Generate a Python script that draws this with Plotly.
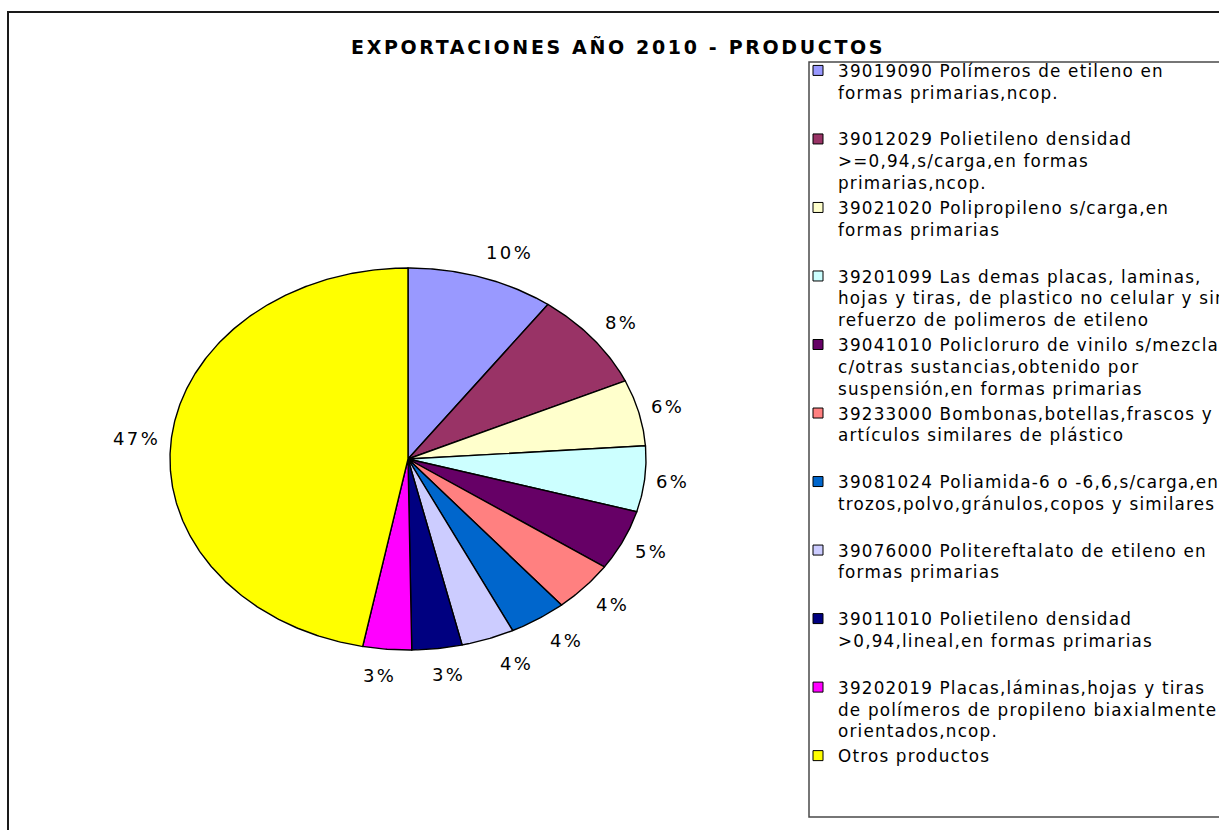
import numpy as np
import plotly.graph_objects as go

# ---------------- data ----------------
categories = [
    "39019090 Polímeros de etileno en\nformas primarias,ncop.",
    "39012029 Polietileno densidad\n>=0,94,s/carga,en formas\nprimarias,ncop.",
    "39021020 Polipropileno s/carga,en\nformas primarias",
    "39201099 Las demas placas, laminas,\nhojas y tiras, de plastico no celular y sin\nrefuerzo de polimeros de etileno",
    "39041010 Policloruro de vinilo s/mezclar\nc/otras sustancias,obtenido por\nsuspensión,en formas primarias",
    "39233000 Bombonas,botellas,frascos y\nartículos similares de plástico",
    "39081024 Poliamida-6 o -6,6,s/carga,en\ntrozos,polvo,gránulos,copos y similares",
    "39076000 Politereftalato de etileno en\nformas primarias",
    "39011010 Polietileno densidad\n>0,94,lineal,en formas primarias",
    "39202019 Placas,láminas,hojas y tiras\nde polímeros de propileno biaxialmente\norientados,ncop.",
    "Otros productos",
]
values = [10.0, 8.3, 5.6, 5.55, 5.1, 4.3, 3.9, 3.6, 3.4, 3.3, 46.95]
colors = ["#9999FF", "#993366", "#FFFFCC", "#CCFFFF", "#660066", "#FF8080",
          "#0066CC", "#CCCCFF", "#000080", "#FF00FF", "#FFFF00"]
title_text = "EXPORTACIONES AÑO 2010 - PRODUCTOS"

# ---------------- layout constants ----------------
W, H = 1219, 830
FONT = "DejaVu Sans, Verdana, sans-serif"
cx, cy, rx, ry = 408, 459, 238, 191   # pie centre / radii in pixels
pad = 1.1

fig = go.Figure()

total = float(sum(values))
cum = np.concatenate([[0.0], np.cumsum(values)]) / total

# pie slices (ellipse produced by axis scaling)
for i, (v, c) in enumerate(zip(values, colors)):
    n = max(3, int((cum[i + 1] - cum[i]) * 720) + 2)
    t = np.linspace(cum[i], cum[i + 1], n) * 2 * np.pi
    xs = np.concatenate([[0.0], np.sin(t), [0.0]])
    ys = np.concatenate([[0.0], np.cos(t), [0.0]])
    fig.add_trace(go.Scatter(
        x=xs, y=ys, mode="lines", fill="toself", fillcolor=c,
        line=dict(color="black", width=1.4), showlegend=False,
        hoverinfo="skip"))

# legend entries (square symbols)
def legend_name(txt, nlines=3, ls=1.2):
    lines = txt.split("\n")
    lines = lines + [""] * (nlines - len(lines))
    out = []
    for ln in lines:
        out.append(f'<span style="letter-spacing:{ls}px">{ln}</span>' if ln else "")
    return "<br>".join(out)

for name, c in zip(categories, colors):
    fig.add_trace(go.Scatter(
        x=[None], y=[None], mode="markers", name=legend_name(name),
        marker=dict(symbol="square", size=10, color=c,
                    line=dict(color="black", width=1)),
        showlegend=True, hoverinfo="skip"))

# percentage labels
annotations = []
for i, v in enumerate(values):
    mid = (cum[i] + cum[i + 1]) / 2 * 2 * np.pi
    s, co = np.sin(mid), np.cos(mid)
    txt = f"{round(v / total * 100)}%"
    w = 11.8 * len(txt) + 11
    lim = w / 2 + 11
    xs_ = float(np.clip(90 * s, -lim, lim))
    ys_ = float(26 * co)
    annotations.append(dict(
        x=float(s), y=float(co), xref="x", yref="y",
        text=f'<span style="letter-spacing:2.4px">{txt}</span>',
        showarrow=False, xanchor="center", yanchor="middle",
        xshift=xs_, yshift=ys_,
        font=dict(family=FONT, size=18, color="black")))

annotations.append(dict(
    x=618 / W, y=1 - 46 / H, xref="paper", yref="paper",
    text=f'<b><span style="letter-spacing:2.65px">{title_text}</span></b>',
    showarrow=False, xanchor="center", yanchor="middle",
    font=dict(family=FONT, size=19, color="black")))

shapes = [
    # outer chart border
    dict(type="rect", xref="paper", yref="paper",
         x0=8 / W, x1=1.02, y0=-0.02, y1=1 - 12 / H,
         line=dict(color="#1a1a1a", width=2), fillcolor="rgba(0,0,0,0)", layer="above"),
    # legend box
    dict(type="rect", xref="paper", yref="paper",
         x0=809 / W, x1=1.02, y0=1 - 817 / H, y1=1 - 62 / H,
         line=dict(color="#4a4a4a", width=1.5), fillcolor="rgba(0,0,0,0)", layer="above"),
]

fig.update_layout(
    width=W, height=H,
    margin=dict(l=0, r=0, t=0, b=0, pad=0, autoexpand=False),
    paper_bgcolor="white", plot_bgcolor="white",
    xaxis=dict(domain=[(cx - pad * rx) / W, (cx + pad * rx) / W],
               range=[-pad, pad], visible=False, fixedrange=True),
    yaxis=dict(domain=[1 - (cy + pad * ry) / H, 1 - (cy - pad * ry) / H],
               range=[-pad, pad], visible=False, fixedrange=True),
    showlegend=True,
    legend=dict(x=798 / W, xanchor="left", y=1 - 53 / H, yanchor="top",
                valign="top", traceorder="normal",
                font=dict(family=FONT, size=16.8, color="black"),
                bgcolor="rgba(0,0,0,0)", borderwidth=0, tracegroupgap=0,
                itemclick=False, itemdoubleclick=False),
    annotations=annotations,
    shapes=shapes,
    font=dict(family=FONT),
)

fig.write_html("out.html")
